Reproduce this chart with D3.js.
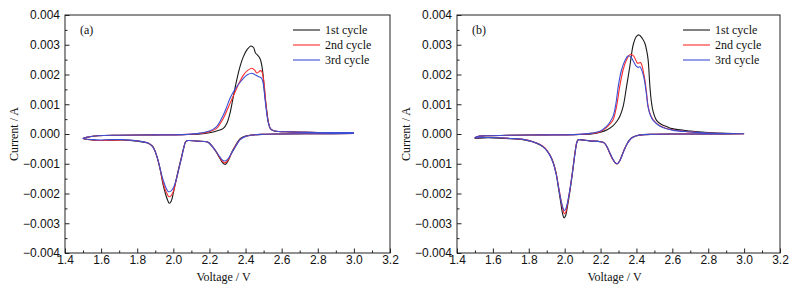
<!DOCTYPE html>
<html>
<head>
<meta charset="utf-8">
<script src="https://cdn.jsdelivr.net/npm/d3@7"></script>
<style>
  body { margin: 0; background: #fff; }
  svg { display: block; font-family: "Liberation Serif", "DejaVu Serif", serif; }
  .tick text { font-size: 12px; fill: #111; }
  .domain { display: none; }
  .tick line { stroke: #222; }
</style>
</head>
<body>
<div id="chart"></div>
<script>
// tick values
const xTicks = [1.4, 1.6, 1.8, 2.0, 2.2, 2.4, 2.6, 2.8, 3.0, 3.2];
const xMinor = [1.5, 1.7, 1.9, 2.1, 2.3, 2.5, 2.7, 2.9, 3.1];
const yTicks = [-0.004, -0.003, -0.002, -0.001, 0, 0.001, 0.002, 0.003, 0.004];
const yMinor = [-0.0035, -0.0025, -0.0015, -0.0005, 0.0005, 0.0015, 0.0025, 0.0035];
const cycles = ["1st cycle", "2nd cycle", "3rd cycle"];

// panel (a): [voltage, current], cathodic 3.0 -> 1.5 then anodic 1.5 -> 3.0
const a1 = [[3.0,0.00002],[2.8,0.00001],[2.6,0],[2.5,-0.00001],[2.44,-0.00003],[2.40,-0.00007],[2.37,-0.00016],[2.345,-0.00038],[2.323,-0.00062],[2.305,-0.00088],[2.288,-0.00102],[2.272,-0.00096],[2.258,-0.00082],[2.24,-0.00063],[2.221,-0.00046],[2.20,-0.00031],[2.185,-0.00026],[2.13,-0.00024],[2.08,-0.00022],[2.068,-0.00026],[2.058,-0.00045],[2.046,-0.00075],[2.03,-0.00115],[2.015,-0.00155],[2.0,-0.00198],[1.988,-0.00226],[1.978,-0.00233],[1.968,-0.00222],[1.955,-0.00198],[1.944,-0.00172],[1.93,-0.00128],[1.915,-0.00088],[1.9,-0.0006],[1.885,-0.00041],[1.86,-0.00031],[1.8,-0.00024],[1.72,-0.0002],[1.65,-0.00021],[1.6,-0.00022],[1.55,-0.0002],[1.5,-0.00015],
  [1.53,-0.0001],[1.58,-0.00006],[1.7,-0.00004],[1.9,-0.00003],[2.05,-0.00002],[2.15,0],[2.2,0.00004],[2.24,0.0001],[2.277,0.00019],[2.298,0.00038],[2.314,0.0007],[2.332,0.00125],[2.351,0.00181],[2.37,0.00228],[2.388,0.0026],[2.41,0.00285],[2.43,0.00296],[2.445,0.0029],[2.455,0.00272],[2.465,0.00266],[2.48,0.00254],[2.49,0.0023],[2.498,0.00193],[2.507,0.0013],[2.517,0.0008],[2.527,0.00038],[2.538,0.00017],[2.56,0.0001],[2.65,0.00007],[2.8,0.00005],[3.0,0.00004]];
const a2 = [[3.0,0.00002],[2.8,0.00001],[2.6,0],[2.5,-0.00001],[2.44,-0.00003],[2.40,-0.00008],[2.37,-0.00018],[2.345,-0.0004],[2.323,-0.00064],[2.303,-0.00088],[2.286,-0.00097],[2.27,-0.0009],[2.256,-0.00078],[2.238,-0.0006],[2.22,-0.00045],[2.20,-0.00031],[2.185,-0.00026],[2.13,-0.00024],[2.08,-0.00022],[2.068,-0.00026],[2.058,-0.00046],[2.046,-0.00077],[2.03,-0.00118],[2.015,-0.00158],[2.0,-0.00193],[1.987,-0.00208],[1.976,-0.00211],[1.966,-0.00202],[1.952,-0.00182],[1.94,-0.00156],[1.927,-0.00118],[1.912,-0.00082],[1.898,-0.00056],[1.882,-0.0004],[1.86,-0.0003],[1.8,-0.00023],[1.72,-0.0002],[1.65,-0.00021],[1.6,-0.00022],[1.55,-0.0002],[1.5,-0.00015],
  [1.53,-0.0001],[1.58,-0.00006],[1.7,-0.00004],[1.9,-0.00003],[2.05,-0.00002],[2.15,0.00002],[2.2,0.00008],[2.24,0.00019],[2.277,0.00053],[2.296,0.00078],[2.314,0.00103],[2.333,0.00129],[2.351,0.00154],[2.37,0.00178],[2.388,0.00198],[2.41,0.00213],[2.434,0.00221],[2.45,0.00215],[2.462,0.00205],[2.472,0.00208],[2.482,0.00213],[2.49,0.0021],[2.498,0.0019],[2.506,0.0015],[2.515,0.0009],[2.527,0.00038],[2.54,0.00016],[2.56,0.0001],[2.65,0.00007],[2.8,0.00005],[3.0,0.00004]];
const a3 = [[3.0,0.00002],[2.8,0.00001],[2.6,0],[2.5,-0.00001],[2.44,-0.00003],[2.40,-0.00008],[2.37,-0.00019],[2.345,-0.00042],[2.322,-0.00065],[2.3,-0.00085],[2.283,-0.00091],[2.268,-0.00085],[2.254,-0.00074],[2.236,-0.00058],[2.218,-0.00044],[2.20,-0.00031],[2.185,-0.00026],[2.13,-0.00024],[2.08,-0.00022],[2.068,-0.00026],[2.058,-0.00047],[2.046,-0.00079],[2.03,-0.00119],[2.015,-0.00156],[2.0,-0.00181],[1.986,-0.00192],[1.973,-0.00194],[1.963,-0.00186],[1.95,-0.00166],[1.938,-0.00143],[1.925,-0.00112],[1.91,-0.00078],[1.896,-0.00054],[1.88,-0.00039],[1.86,-0.0003],[1.8,-0.00023],[1.72,-0.00019],[1.65,-0.00019],[1.6,-0.0002],[1.55,-0.00019],[1.5,-0.00015],
  [1.53,-0.0001],[1.58,-0.00006],[1.7,-0.00004],[1.9,-0.00003],[2.05,-0.00002],[2.15,0.00003],[2.2,0.0001],[2.24,0.00025],[2.277,0.00064],[2.296,0.00092],[2.314,0.0012],[2.333,0.00142],[2.351,0.00159],[2.37,0.00174],[2.388,0.00187],[2.41,0.00199],[2.434,0.00204],[2.45,0.002],[2.47,0.00193],[2.488,0.00188],[2.496,0.00175],[2.504,0.0014],[2.513,0.0009],[2.526,0.00038],[2.54,0.00016],[2.56,0.0001],[2.65,0.00007],[2.8,0.00005],[3.0,0.00004]];

// panel (b)
const b1 = [[3.0,0.00001],[2.8,0],[2.6,0],[2.5,-0.00001],[2.44,-0.00002],[2.40,-0.00006],[2.37,-0.00014],[2.35,-0.0003],[2.33,-0.00055],[2.315,-0.00078],[2.302,-0.00095],[2.292,-0.001],[2.28,-0.00096],[2.265,-0.00082],[2.25,-0.00062],[2.235,-0.00042],[2.22,-0.0003],[2.2,-0.00026],[2.14,-0.00023],[2.085,-0.00019],[2.075,-0.00019],[2.068,-0.00027],[2.062,-0.00045],[2.054,-0.0008],[2.047,-0.00114],[2.038,-0.00155],[2.029,-0.00193],[2.015,-0.00245],[2.005,-0.00275],[1.997,-0.00282],[1.99,-0.00272],[1.983,-0.0025],[1.977,-0.00226],[1.965,-0.0018],[1.954,-0.00137],[1.936,-0.00095],[1.917,-0.0007],[1.89,-0.00048],[1.861,-0.00036],[1.82,-0.00026],[1.768,-0.00019],[1.7,-0.00016],[1.6,-0.00013],[1.55,-0.00013],[1.5,-0.00015],
  [1.52,-0.00008],[1.56,-0.00006],[1.7,-0.00004],[1.9,-0.00003],[2.05,-0.00002],[2.15,0],[2.2,0.00006],[2.24,0.00015],[2.27,0.00028],[2.29,0.00042],[2.307,0.00059],[2.326,0.00093],[2.345,0.0016],[2.363,0.00227],[2.382,0.003],[2.4,0.00328],[2.415,0.00333],[2.432,0.00322],[2.447,0.00305],[2.457,0.0028],[2.465,0.0025],[2.475,0.0016],[2.483,0.0011],[2.493,0.00075],[2.512,0.00046],[2.54,0.00032],[2.568,0.00025],[2.6,0.00018],[2.7,0.0001],[2.8,0.00005],[2.9,0.00002],[3.0,0.00001]];
const b2 = [[3.0,0.00001],[2.8,0],[2.6,0],[2.5,-0.00001],[2.44,-0.00002],[2.40,-0.00006],[2.37,-0.00015],[2.35,-0.00031],[2.33,-0.00056],[2.315,-0.00079],[2.302,-0.00095],[2.292,-0.00101],[2.28,-0.00096],[2.265,-0.00082],[2.25,-0.00063],[2.235,-0.00043],[2.22,-0.0003],[2.2,-0.00026],[2.14,-0.00023],[2.085,-0.00019],[2.075,-0.0002],[2.068,-0.00028],[2.062,-0.00046],[2.054,-0.00078],[2.047,-0.0011],[2.038,-0.0015],[2.029,-0.00188],[2.015,-0.00237],[2.006,-0.00263],[1.999,-0.00268],[1.992,-0.00258],[1.984,-0.00236],[1.977,-0.00214],[1.965,-0.00174],[1.954,-0.00136],[1.936,-0.00096],[1.917,-0.0007],[1.89,-0.00047],[1.861,-0.00034],[1.82,-0.00025],[1.768,-0.00018],[1.7,-0.00015],[1.6,-0.00012],[1.55,-0.00012],[1.5,-0.00013],
  [1.52,-0.00008],[1.56,-0.00006],[1.7,-0.00004],[1.9,-0.00003],[2.05,-0.00002],[2.15,0.00002],[2.2,0.00008],[2.23,0.0002],[2.25,0.00032],[2.27,0.00048],[2.289,0.00093],[2.307,0.0016],[2.326,0.00216],[2.347,0.00252],[2.367,0.00268],[2.385,0.00262],[2.398,0.00246],[2.406,0.00238],[2.415,0.00239],[2.423,0.0024],[2.432,0.00228],[2.44,0.00205],[2.447,0.00182],[2.456,0.0014],[2.465,0.00093],[2.478,0.00065],[2.493,0.00048],[2.53,0.00028],[2.6,0.00014],[2.7,0.00007],[2.8,0.00003],[3.0,0.00001]];
const b3 = [[3.0,0.00001],[2.8,0],[2.6,0],[2.5,-0.00001],[2.44,-0.00002],[2.40,-0.00006],[2.37,-0.00015],[2.35,-0.00031],[2.33,-0.00057],[2.315,-0.0008],[2.302,-0.00095],[2.292,-0.001],[2.28,-0.00095],[2.265,-0.0008],[2.25,-0.00061],[2.235,-0.00042],[2.22,-0.0003],[2.2,-0.00026],[2.14,-0.00023],[2.085,-0.00019],[2.075,-0.0002],[2.068,-0.00028],[2.062,-0.00047],[2.054,-0.0008],[2.047,-0.00113],[2.038,-0.00153],[2.029,-0.00188],[2.015,-0.00232],[2.005,-0.00253],[1.997,-0.00257],[1.99,-0.00248],[1.983,-0.00232],[1.976,-0.00212],[1.965,-0.00176],[1.954,-0.00139],[1.936,-0.00098],[1.917,-0.00071],[1.89,-0.00048],[1.861,-0.00035],[1.82,-0.00025],[1.768,-0.00018],[1.7,-0.00015],[1.6,-0.00012],[1.55,-0.00012],[1.5,-0.00013],
  [1.52,-0.00008],[1.56,-0.00006],[1.7,-0.00004],[1.9,-0.00003],[2.05,-0.00002],[2.15,0.00003],[2.2,0.0001],[2.23,0.00024],[2.25,0.00038],[2.27,0.0006],[2.285,0.001],[2.3,0.00165],[2.317,0.00216],[2.337,0.00248],[2.354,0.00263],[2.37,0.00258],[2.385,0.00242],[2.4,0.00227],[2.41,0.00224],[2.42,0.00226],[2.43,0.00214],[2.44,0.00194],[2.447,0.00172],[2.456,0.00132],[2.465,0.0009],[2.478,0.00062],[2.493,0.00046],[2.53,0.00027],[2.6,0.00013],[2.7,0.00007],[2.8,0.00003],[3.0,0.00001]];

const colors = ["#1a1a1a", "#ff2b2b", "#3b4fd4"];

const W = 795, H = 294;
const svg = d3.select("#chart").append("svg")
    .attr("width", W)
    .attr("height", H);

const panels = [
  {label: "(a)", left: 65, right: 390, series: [a1, a2, a3]},
  {label: "(b)", left: 457, right: 780, series: [b1, b2, b3]}
];
const plotTop = 15, plotBottom = 253;

panels.forEach(p => {
  const x = d3.scaleLinear().domain([1.4, 3.2]).range([p.left, p.right]);
  const y = d3.scaleLinear().domain([-0.004, 0.004]).range([plotBottom, plotTop]);

  // minor ticks
  svg.append("g")
     .attr("transform", `translate(0,${plotBottom})`)
     .call(d3.axisBottom(x).tickValues(xMinor).tickSize(-2.5).tickFormat(""));
  svg.append("g")
     .attr("transform", `translate(${p.left},0)`)
     .call(d3.axisLeft(y).tickValues(yMinor).tickSize(-2.5).tickFormat(""));

  // major ticks
  svg.append("g")
     .attr("transform", `translate(0,${plotBottom})`)
     .call(d3.axisBottom(x).tickValues(xTicks).tickSize(-4.5).tickPadding(2).tickFormat(d3.format(".1f")));
  svg.append("g")
     .attr("transform", `translate(${p.left},0)`)
     .call(d3.axisLeft(y).tickValues(yTicks).tickSize(-4.5).tickPadding(5).tickFormat(d3.format(".3f")));

  svg.append("rect")
     .attr("x", p.left).attr("y", plotTop)
     .attr("width", p.right - p.left).attr("height", plotBottom - plotTop)
     .attr("fill", "none").attr("stroke", "#222").attr("stroke-width", 1);

  const line = d3.line()
      .x(d => x(d[0]))
      .y(d => y(d[1]))
      .curve(d3.curveCatmullRom.alpha(0.5));

  p.series.forEach((s, i) => {
    svg.append("path")
       .datum(s)
       .attr("fill", "none")
       .attr("stroke", colors[i])
       .attr("stroke-width", 1.1)
       .attr("d", line);
  });

  // panel label
  svg.append("text")
     .attr("x", p.left + 15).attr("y", 34)
     .attr("font-size", 12).attr("fill", "#111")
     .text(p.label);

  // legend
  const lg = svg.append("g").attr("transform", `translate(${p.right - 97},0)`);
  cycles.forEach((c, i) => {
    const yy = 30 + i * 15;
    lg.append("line")
      .attr("x1", 0).attr("x2", 27)
      .attr("y1", yy).attr("y2", yy)
      .attr("stroke", colors[i]).attr("stroke-width", 1.1);
    lg.append("text")
      .attr("x", 32).attr("y", yy + 4)
      .attr("font-size", 12).attr("fill", "#111")
      .text(c);
  });

  // axis titles
  svg.append("text")
     .attr("x", (p.left + p.right) / 2 - 4).attr("y", 281)
     .attr("text-anchor", "middle")
     .attr("font-size", 12).attr("fill", "#111")
     .text("Voltage / V");
  svg.append("text")
     .attr("transform", `translate(${p.left - 47},134) rotate(-90)`)
     .attr("text-anchor", "middle")
     .attr("font-size", 12).attr("fill", "#111")
     .text("Current / A");
});
</script>
</body>
</html>
